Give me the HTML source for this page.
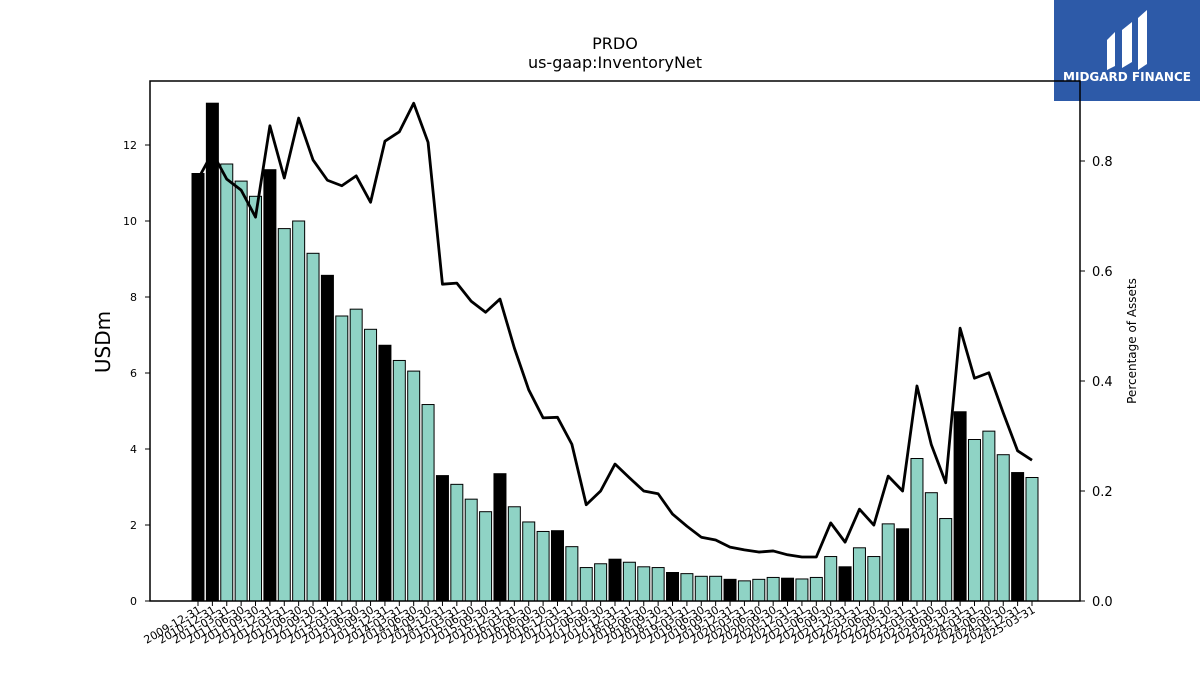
<!DOCTYPE html>
<html><head><meta charset="utf-8"><style>
body{margin:0;background:#fff;width:1200px;height:675px;overflow:hidden;font-family:"Liberation Sans","DejaVu Sans",sans-serif}
svg text{font-family:"DejaVu Sans","Liberation Sans",sans-serif}
</style></head><body>
<svg id="c" width="1200" height="675">
<text x="615" y="49" font-size="16" text-anchor="middle">PRDO</text>
<text x="615" y="68" font-size="16" text-anchor="middle">us-gaap:InventoryNet</text>
<text transform="translate(110,342) rotate(-90)" font-size="20" text-anchor="middle">USDm</text>
<text transform="translate(1136,341) rotate(-90)" font-size="12" text-anchor="middle">Percentage of Assets</text>
<g>
<rect x="1054" y="0" width="146" height="101" fill="#2d5aa8"/>
<path d="M1107 40 L1115 32 L1115 66 L1107 70 Z M1122 30 L1132 22 L1132 62 L1122 68 Z M1138 18 L1147 10 L1147 64 L1138 70 Z" fill="#fff"/>
<text x="1127" y="81" font-size="12" font-weight="bold" fill="#fff" text-anchor="middle">MIDGARD FINANCE</text>
</g>
<g id="plot"></g>
<rect x="150" y="81" width="930" height="520" fill="none" stroke="#000" stroke-width="1.5"/>
</svg>
<script>
const categories=["2009-12-31","2010-12-31"];
for(let y=2011;y<=2025;y++){for(const q of ["03-31","06-30","09-30","12-31"]){if(y===2025&&q!=="03-31")break;categories.push(y+"-"+q);}}
const inventory=[11.25,13.1,11.5,11.05,10.65,11.35,9.8,10.0,9.15,8.57,7.5,7.68,7.15,6.73,6.33,6.05,5.17,3.3,3.07,2.68,2.35,3.35,2.48,2.08,1.83,1.85,1.43,0.88,0.98,1.1,1.02,0.9,0.88,0.75,0.72,0.65,0.65,0.57,0.53,0.57,0.62,0.6,0.58,0.62,1.17,0.9,1.4,1.17,2.03,1.9,3.75,2.85,2.17,4.98,4.25,4.47,3.85,3.38,3.25];
const pctAssets=[0.767,0.815,0.767,0.747,0.698,0.864,0.769,0.878,0.802,0.765,0.755,0.773,0.725,0.836,0.853,0.905,0.834,0.576,0.578,0.545,0.525,0.549,0.46,0.384,0.333,0.334,0.285,0.175,0.2,0.249,0.224,0.2,0.195,0.158,0.136,0.116,0.111,0.098,0.093,0.089,0.091,0.084,0.08,0.08,0.142,0.107,0.167,0.138,0.227,0.2,0.391,0.284,0.215,0.496,0.405,0.415,0.342,0.273,0.256];
const leftTicks=[0,2,4,6,8,10,12];
const rightTicks=[0,0.2,0.4,0.6,0.8];
const NS="http://www.w3.org/2000/svg";
const g=document.getElementById("plot");
const X=i=>198+i*(1032-198)/(categories.length-1);
const Y=v=>601-v*38;
const Y2=v=>601-v*550;
function mk(t,a){const e=document.createElementNS(NS,t);for(const k in a)e.setAttribute(k,a[k]);g.appendChild(e);return e;}
leftTicks.forEach(t=>{
 const l=mk("line",{x1:145,x2:150,y1:Y(t),y2:Y(t),stroke:"#000"});
 
 
 const tx=mk("text",{x:137,y:Y(t)+4,"font-size":11,"text-anchor":"end"});tx.textContent=t;
 
 
});
rightTicks.forEach(t=>{
 const l=mk("line",{x1:1080,x2:1085,y1:Y2(t),y2:Y2(t),stroke:"#000"});
 
 
 const tx=mk("text",{x:1092,y:Y2(t)+5,"font-size":13});tx.textContent=t.toFixed(1);
 
 
});
categories.forEach((c,i)=>{
 const annual=c.endsWith("12-31");
 const r=mk("rect",{x:X(i)-6,y:Y(inventory[i]),width:12,height:inventory[i]*38,fill:annual?"#000":"#8fd3c5",stroke:"#000","stroke-width":1});
 
 
 const l=mk("line",{x1:X(i),x2:X(i),y1:601,y2:606,stroke:"#000"});
 
 
 const tx=mk("text",{transform:`translate(${X(i)+4},${612}) rotate(-30)`,"font-size":11,"text-anchor":"end"});tx.textContent=c;
 
 
});
const pl=mk("polyline",{points:pctAssets.map((v,i)=>X(i)+","+Y2(v)).join(" "),fill:"none",stroke:"#000","stroke-width":2.8,"stroke-linejoin":"round"});


</script>
</body></html>
